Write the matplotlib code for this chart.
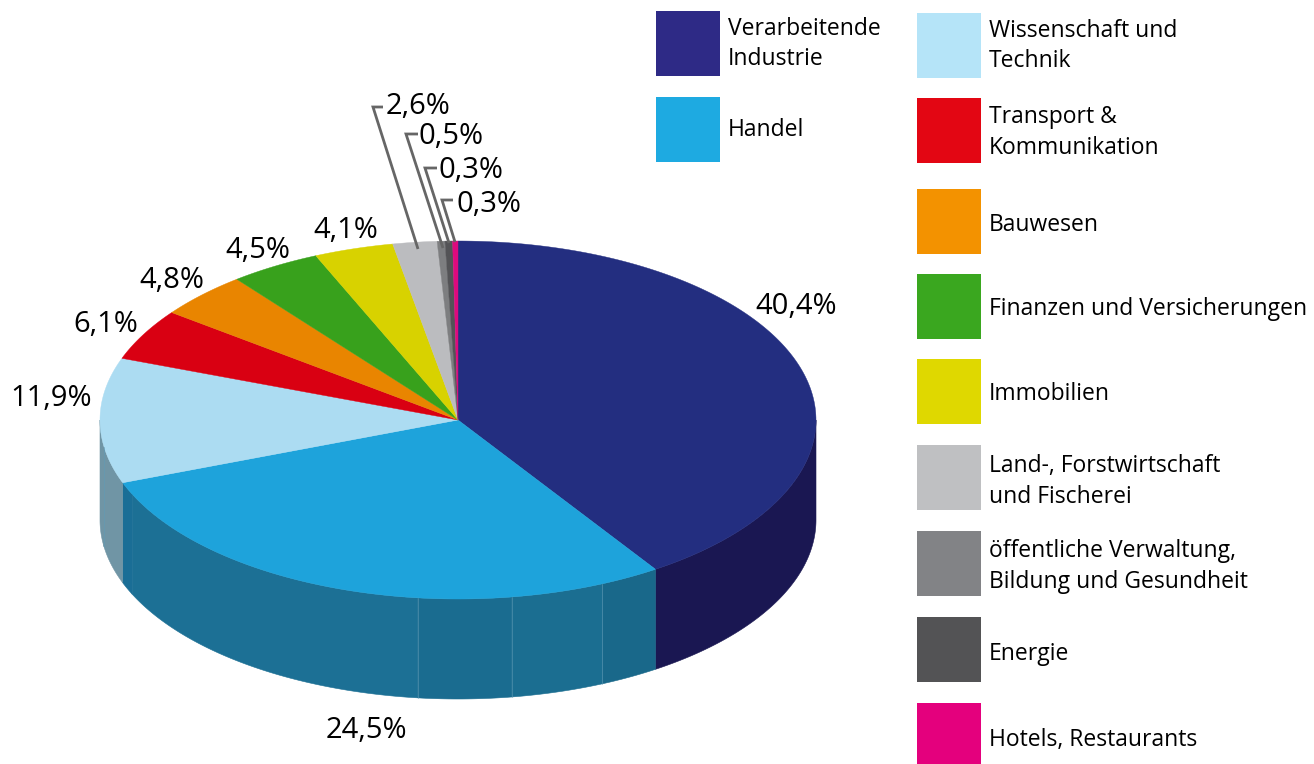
import numpy as np
import matplotlib
matplotlib.use("Agg")
import matplotlib.pyplot as plt

plt.rcParams["font.family"] = ["Open Sans", "DejaVu Sans"]

# slices clockwise from 12 o'clock; shares are what the drawing shows, labels what it prints
shares = [40.7, 28.6, 11.3, 4.65, 4.15, 4.1, 3.58, 1.99, 0.35, 0.34, 0.24]
pie_colors = ["#232e80", "#1ea3db", "#acdcf2", "#d90012", "#e98500", "#38a11c",
              "#d8d200", "#bbbcbf", "#7d7e80", "#535356", "#dd0a7e"]

# rim of the pie, in percent of the circle, from 3 o'clock to 9 o'clock
rim_edges = [25.0, 40.7, 43.4, 47.6, 51.8, 68.2, 69.3, 72.6, 75.0]
rim_colors = ["#1a1752", "#19688a", "#1b6e91", "#1a6c90", "#1c7095",
              "#1a6e96", "#7095a5", "#7095a5"]
rim_seams = [43.4, 47.6, 51.8, 72.6]

pct_labels = ["40,4%", "24,5%", "11,9%", "6,1%", "4,8%", "4,5%", "4,1%",
              "2,6%", "0,5%", "0,3%", "0,3%"]
pct_x = [796, 366, 51, 106, 172, 258, 346, 386, 419, 439, 456]
pct_y = [307, 730, 399, 325, 281, 251, 231, 107, 137, 170, 204]
pct_ha = ["center"] * 7 + ["left"] * 4

leaders = [
    ([383, 373, 418], [107, 107, 249]),
    ([418, 406, 443], [134, 134, 248]),
    ([437, 425, 449], [168, 168, 243]),
    ([453, 442, 455], [200, 200, 242]),
]

legend_labels = ["Verarbeitende\nIndustrie", "Handel", "Wissenschaft und\nTechnik",
                 "Transport &\nKommunikation", "Bauwesen", "Finanzen und Versicherungen",
                 "Immobilien", "Land-, Forstwirtschaft\nund Fischerei",
                 "öffentliche Verwaltung,\nBildung und Gesundheit", "Energie",
                 "Hotels, Restaurants"]
legend_colors = ["#2e2a86", "#1eaae1", "#b5e4f8", "#e30613", "#f39200", "#3aa71f",
                 "#dfd800", "#bfc0c2", "#828386", "#535355", "#e4007d"]
legend_left = [656, 656, 917, 917, 917, 917, 917, 917, 917, 917, 917]
legend_top = [11, 97, 13, 98, 189, 274, 359, 445, 531, 617, 703]
legend_text_y = [44, 130, 46, 132.5, 225, 309, 394, 481.5, 566.5, 654, 740]

CX, CY, RX, RY, DEPTH = 458, 420, 358, 179, 100


def arc(start, end, dy=0, reverse=False):
    t = np.radians(np.linspace(start, end, 200) * 3.6)
    x = CX + RX * np.sin(t)
    y = CY + dy - RY * np.cos(t)
    return (x[::-1], y[::-1]) if reverse else (x, y)


def main():
    fig = plt.figure(figsize=(13.14, 7.64), dpi=100)
    ax = fig.add_axes([0, 0, 1, 1])
    ax.set_xlim(0, 1314)
    ax.set_ylim(764, 0)
    ax.axis("off")

    # rim first, top face goes over it
    for i, col in enumerate(rim_colors):
        x1, y1 = arc(rim_edges[i], rim_edges[i + 1])
        x2, y2 = arc(rim_edges[i], rim_edges[i + 1], dy=DEPTH, reverse=True)
        ax.fill(np.r_[x1, x2], np.r_[y1, y2], color=col, lw=0.4)
    for s in rim_seams:
        x, y = arc(s, s)
        ax.plot([x[0], x[0]], [y[0], y[0] + DEPTH], color="#5f9ab5", lw=0.4)

    start = 0
    for share, col in zip(shares, pie_colors):
        x, y = arc(start, start + share)
        ax.fill(np.r_[CX, x], np.r_[CY, y], color=col, lw=0.3)
        start += share

    for xs, ys in leaders:
        ax.plot(xs, ys, color="#666666", lw=2, solid_joinstyle="miter", solid_capstyle="butt")

    for lab, x, y, ha in zip(pct_labels, pct_x, pct_y, pct_ha):
        ax.text(x, y, lab, fontsize=21, ha=ha, va="center", color="black")

    for lab, col, left, top, ty in zip(legend_labels, legend_colors, legend_left, legend_top, legend_text_y):
        ax.add_patch(plt.Rectangle((left, top), 64, 65, color=col, lw=0))
        ax.text(left + 72, ty, lab, fontsize=16.5, ha="left", va="center",
                linespacing=1.35, color="black")

    fig.savefig("out.png", dpi=100)


if __name__ == "__main__":
    main()
